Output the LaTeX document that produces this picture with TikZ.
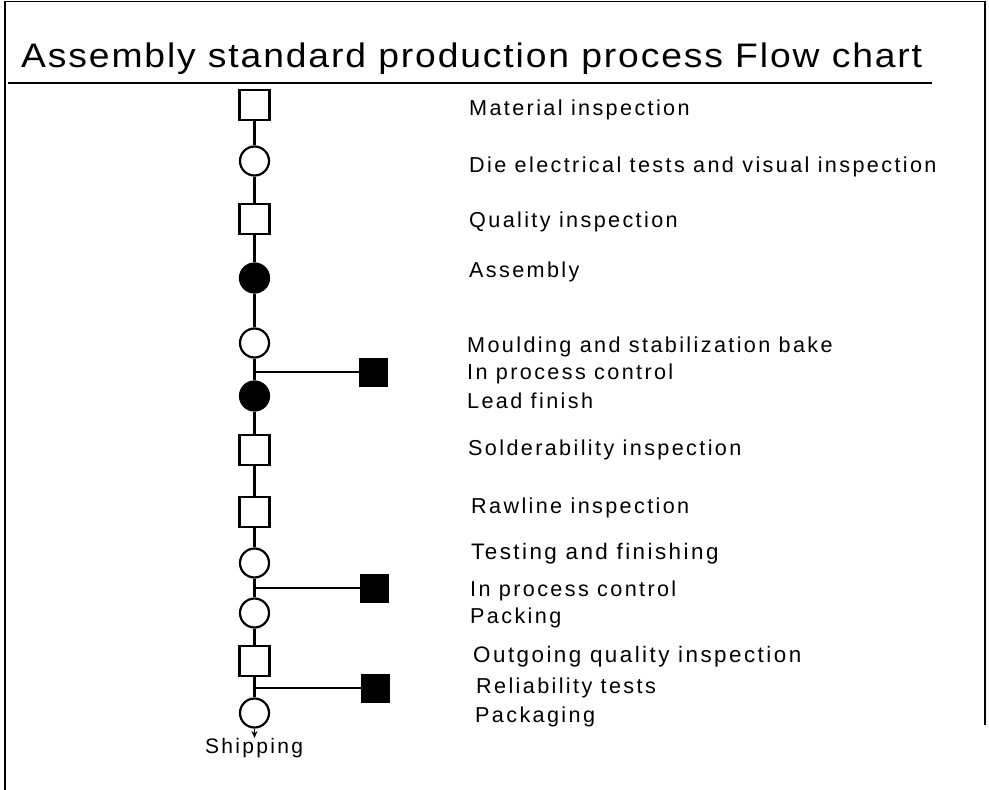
\documentclass[tikz,border=0pt]{standalone}
\usepackage{graphicx}
\usepackage{fontspec}
\setmainfont{Liberation Sans}
\newfontfamily\labfont[LetterSpace=11]{Liberation Sans}
\newfontfamily\titlefont[LetterSpace=5]{Liberation Sans}
\usetikzlibrary{arrows.meta}

\tikzset{
  opnode/.style={circle, draw, line width=2.2pt, minimum size=29pt, inner sep=0pt},
  opfilled/.style={opnode, fill=black},
  inspbox/.style={rectangle, draw, line width=2.2pt, minimum size=30pt, inner sep=0pt},
  ctrlbox/.style={rectangle, draw, fill=black, line width=1pt, minimum size=28pt, inner sep=0pt},
  lab/.style={anchor=base west, inner sep=0pt, font=\labfont\fontsize{21.6}{25}\selectfont},
  labbig/.style={lab, font=\labfont\fontsize{22.4}{26}\selectfont},
  link/.style={line width=2.2pt},
}

\begin{document}
\begin{tikzpicture}[x=1pt, y=-1pt]
  \useasboundingbox (0,0) rectangle (989,790);
  \fill[white] (0,0) rectangle (989,790);

  % frame
  \draw[line width=1.4pt] (985,725) -- (985,1.5) -- (5,1.5) -- (5,790);

  % title and rule
  \node[anchor=base west, inner sep=0pt] (title) at (21,67)
    {\resizebox{901pt}{\height}{\titlefont\fontsize{34}{40}\selectfont Assembly standard production process Flow chart}};
  \draw[line width=2.2pt] (8,83) -- (932,83);

  % process steps along the main line
  \node[inspbox]  (s1)  at (254.5,105) {};
  \node[opnode]   (c2)  at (254.5,161) {};
  \node[inspbox]  (s3)  at (254.5,219) {};
  \node[opfilled] (f4)  at (254.5,278) {};
  \node[opnode]   (c5)  at (254.5,343) {};
  \node[opfilled] (f6)  at (254.5,396) {};
  \node[inspbox]  (s7)  at (254.5,450) {};
  \node[inspbox]  (s8)  at (254.5,512) {};
  \node[opnode]   (c9)  at (254.5,563) {};
  \node[opnode]   (c10) at (254.5,613) {};
  \node[inspbox]  (s11) at (254.5,661) {};
  \node[opnode]   (c12) at (254.5,713) {};

  % side controls
  \coordinate (j1) at (254.5,372);
  \coordinate (j2) at (254.5,588);
  \coordinate (j3) at (254.5,688);
  \node[ctrlbox] (q1) at (373,372) {};
  \node[ctrlbox] (q2) at (374,588) {};
  \node[ctrlbox] (q3) at (375,688) {};

  % main line
  \draw[link] (s1) -- (c2);
  \draw[link] (c2) -- (s3);
  \draw[link] (s3) -- (f4);
  \draw[link] (f4) -- (c5);
  \draw[link] (c5) -- (f6);
  \draw[link] (f6) -- (s7);
  \draw[link] (s7) -- (s8);
  \draw[link] (s8) -- (c9);
  \draw[link] (c9) -- (c10);
  \draw[link] (c10) -- (s11);
  \draw[link] (s11) -- (c12);

  % branches
  \draw[link] (j1) -- (q1);
  \draw[link] (j2) -- (q2);
  \draw[link] (j3) -- (q3);

  % shipping
  \node[anchor=base, inner sep=0pt, font=\labfont\fontsize{21}{25}\selectfont] (ship) at (254,753) {Shipping};
  \coordinate (shipin) at (254.5,738);
  \draw[line width=1.4pt, -{Stealth[length=7pt,width=6pt]}] (c12) -- (shipin);

  % labels
  \node[lab] (l1)  at (469,115) {Material inspection};
  \node[lab] (l2)  at (469,172) {Die electrical tests and visual inspection};
  \node[lab] (l3)  at (469,227) {Quality inspection};
  \node[lab] (l4)  at (469,277) {Assembly};
  \node[lab] (l5)  at (467,352) {Moulding and stabilization bake};
  \node[lab] (l6)  at (467,379) {In process control};
  \node[lab] (l7)  at (467,408) {Lead finish};
  \node[lab] (l8)  at (468,455) {Solderability inspection};
  \node[lab] (l9)  at (471,513) {Rawline inspection};
  \node[labbig] (l10) at (471,559) {Testing and finishing};
  \node[lab] (l11) at (470,596) {In process control};
  \node[lab] (l12) at (470,623) {Packing};
  \node[labbig] (l13) at (473,662) {Outgoing quality inspection};
  \node[lab] (l14) at (476,693) {Reliability tests};
  \node[lab] (l15) at (475,722) {Packaging};
\end{tikzpicture}
\end{document}
